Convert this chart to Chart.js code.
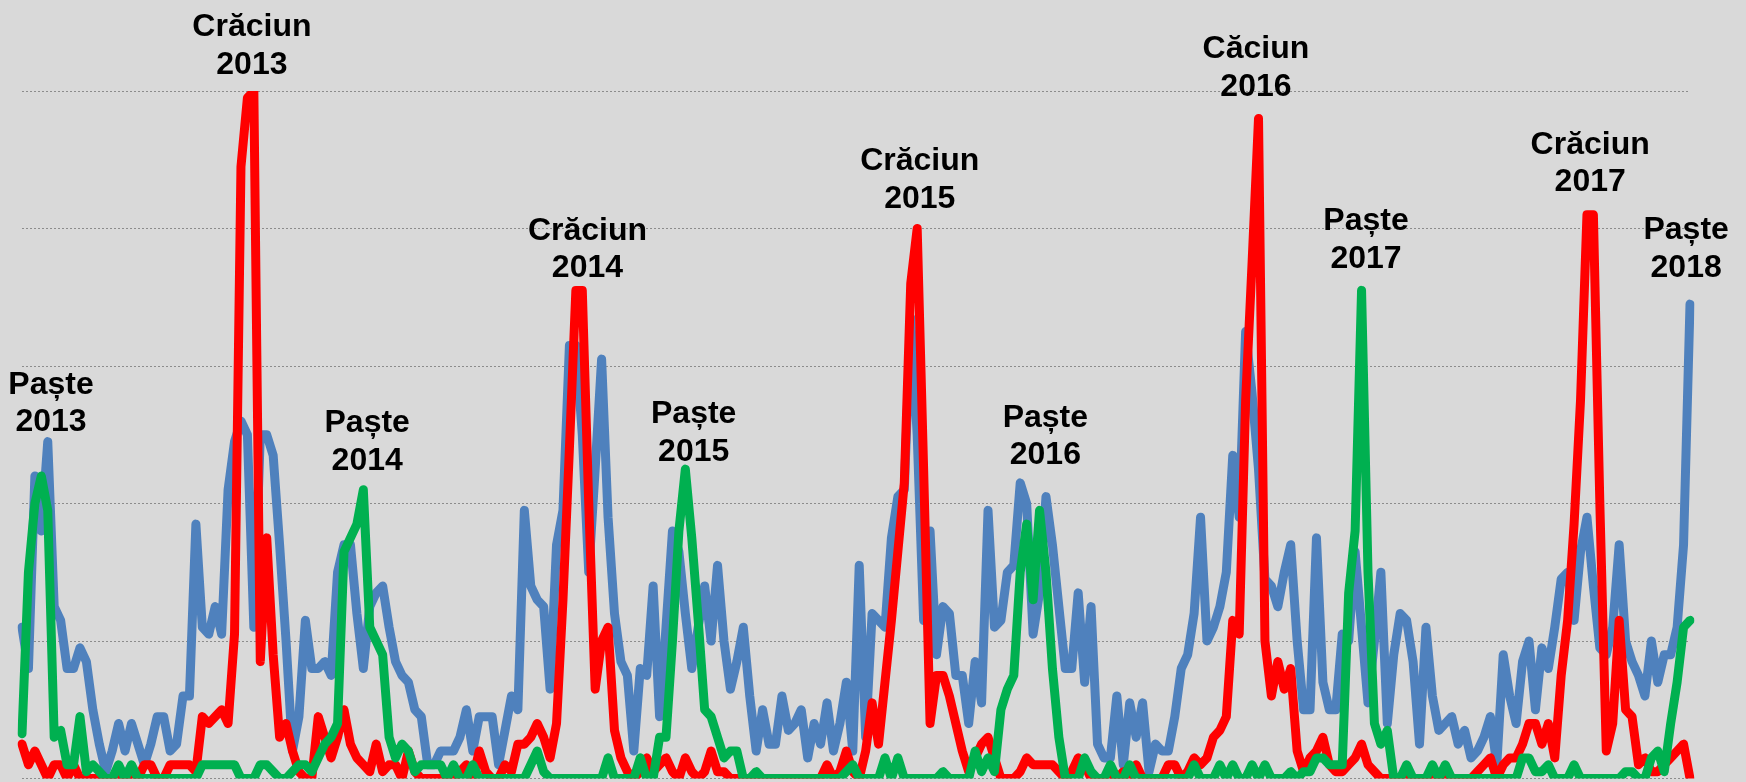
<!DOCTYPE html>
<html>
<head>
<meta charset="utf-8">
<script src="https://cdn.jsdelivr.net/npm/chart.js@4/dist/chart.umd.min.js"></script>
<style>
  html, body { margin: 0; padding: 0; background: #d9d9d9; }
  #wrap { width: 1746px; height: 782px; background: #d9d9d9; }
  canvas { display: block; }
</style>
</head>
<body>
<div id="wrap"><canvas id="c" width="1746" height="782"></canvas></div>
<script>
// ---- categories: weekly points, April 2013 - April 2018 ----
const startWeek = new Date(Date.UTC(2013, 3, 14));
const weeks = [];
for (let i = 0; i < 260; i++) {
  const d = new Date(startWeek.getTime() + i * 7 * 86400000);
  weeks.push(d.toISOString().slice(0, 10));
}

// ---- series values (0-100 index) ----
const seriesBlue = [
  22,16,44,36,49,25,23,16,16,19,
  17,10,5,1,4,8,4,8,5,2,
  5,9,9,4,5,12,12,37,22,21,
  25,21,42,49,52,50,22,50,50,47,
  34,20,4,9,23,16,16,17,15,30,
  34,34,24,16,25,27,28,22,17,15,
  14,10,9,2,2,4,4,4,6,10,
  4,9,9,9,2,7,12,10,39,28,
  26,25,13,34,39,63,63,50,30,45,
  61,38,24,17,15,4,16,15,28,9,
  22,36,33,24,16,22,28,20,31,20,
  13,17,22,12,4,10,5,5,12,7,
  8,10,3,8,5,11,4,8,14,4,
  31,6,24,23,22,35,41,42,67,50,
  23,36,18,25,24,15,15,8,17,11,
  39,22,23,30,31,43,40,21,27,41,
  34,25,16,16,27,14,25,5,3,3,
  12,2,11,6,11,1,5,4,4,9,
  16,18,24,38,20,22,25,30,47,38,
  65,56,45,29,28,25,30,34,20,10,
  10,35,14,10,10,21,20,33,22,11,
  20,30,8,18,24,23,17,5,22,12,
  7,8,9,5,7,3,4,6,9,2,
  18,12,8,17,20,10,19,16,22,29,
  30,23,33,38,28,19,18,22,34,20,
  17,15,12,20,14,18,18,22,34,69
];
const seriesCraciun = [
  5,2,4,2,0,2,2,0,2,0,
  0,0,0,0,0,0,0,0,0,2,
  2,0,0,2,2,2,2,1,9,8,
  9,10,8,21,89,99,100,17,35,18,
  6,8,4,1,0,0,9,6,3,6,
  10,5,3,2,1,5,1,2,2,0,
  4,1,0,0,0,0,0,0,1,2,
  0,4,1,0,0,2,1,5,5,6,
  8,6,3,8,26,48,71,71,40,13,
  20,22,7,3,1,0,1,3,1,2,
  3,1,0,3,1,0,1,4,1,1,
  0,0,0,0,0,0,0,0,0,0,
  0,0,0,0,0,2,0,1,4,1,
  0,4,11,5,14,23,33,43,72,80,
  45,8,15,15,12,8,4,1,3,5,
  6,3,0,0,0,1,3,2,2,2,
  2,1,0,1,3,2,0,0,0,0,
  0,1,0,2,0,0,0,0,2,2,
  0,1,3,2,3,6,7,9,23,21,
  55,75,96,20,12,17,13,16,4,1,
  3,4,6,2,1,1,2,3,5,2,
  1,0,0,0,0,1,0,0,0,0,
  0,0,0,0,0,0,1,2,3,0,
  2,3,3,5,8,8,5,8,3,15,
  23,37,55,82,82,40,4,8,23,10,
  9,2,3,1,1,2,3,4,5,0
];
const seriesPaste = [
  6.5,30,40,44,39,6,7,2,2,9,
  1,2,1,0,0,2,0,2,0,0,
  0,0,0,0,0,0,0,0,2,2,
  2,2,2,2,0,0,0,2,2,1,
  0,0,1,2,2,1,3,5,6,8,
  33,35,37,42,22,20,18,6,3,5,
  4,1,2,2,2,2,0,2,0,0,
  2,0,0,0,0,0,0,0,0,2,
  4,1,0,0,0,0,0,0,0,0,
  0,3,0,0,0,0,3,0,0,6,
  6,20,36,45,35,23,10,9,6,3,
  4,4,0,0,1,0,0,0,0,0,
  0,0,0,0,0,0,0,0,1,2,
  0,0,0,0,3,0,3,0,0,0,
  0,0,0,1,0,0,0,0,4,1,
  3,1,10,13,15,30,37,26,39,30,
  16,6,0,0,0,3,1,0,0,2,
  0,0,2,0,0,0,0,0,0,0,
  0,0,2,0,0,0,2,0,2,0,
  0,2,0,2,0,0,0,1,0,1,
  1,3,3,2,2,2,27,36,71,30,
  8,5,7,0,0,2,0,0,0,2,
  0,2,0,0,0,0,0,0,0,0,
  0,0,0,3,3,1,1,2,0,0,
  0,2,0,0,0,0,0,0,0,1,
  1,0,0,3,4,1,8,14,22,23
];

// ---- y axis ticks (gridlines) ----
const yTicks = [0, 20, 40, 60, 80, 100];

// ---- annotations: text lines, anchored at (week index, value of 2nd baseline) ----
const noteLines = [
  ['Paște', '2013'], ['Crăciun', '2013'], ['Paște', '2014'], ['Crăciun', '2014'],
  ['Paște', '2015'], ['Crăciun', '2015'], ['Paște', '2016'], ['Căciun', '2016'],
  ['Paște', '2017'], ['Crăciun', '2017'], ['Paște', '2018']
];
const noteIndex = [4.5, 35.7, 53.6, 87.8, 104.3, 139.4, 158.9, 191.6, 208.7, 243.5, 258.4];
const noteValue = [50.5, 102.5, 44.9, 72.9, 46.2, 83, 45.7, 99.3, 74.3, 85.4, 73];

const notesPlugin = {
  id: 'notes',
  afterDatasetsDraw(chart) {
    const ctx = chart.ctx;
    const xs = chart.scales.x, ys = chart.scales.y;
    ctx.save();
    ctx.font = 'bold 32px "Liberation Sans", Arial, sans-serif';
    ctx.fillStyle = '#000000';
    ctx.textAlign = 'center';
    ctx.textBaseline = 'alphabetic';
    noteLines.forEach((lines, k) => {
      const x = xs.getPixelForValue(noteIndex[k]);
      const y2 = ys.getPixelForValue(noteValue[k]);
      ctx.fillText(lines[0], x, y2 - 37.5);
      ctx.fillText(lines[1], x, y2);
    });
    ctx.restore();
  }
};

const lineStyle = { borderWidth: 9, tension: 0, borderJoinStyle: 'round', borderCapStyle: 'round', pointRadius: 0, pointHoverRadius: 0, fill: false };

new Chart(document.getElementById('c'), {
  type: 'line',
  data: {
    labels: weeks,
    datasets: [
      Object.assign({ label: 'Paște', data: seriesPaste, borderColor: '#00b050', backgroundColor: '#00b050', order: 0 }, lineStyle),
      Object.assign({ label: 'Crăciun', data: seriesCraciun, borderColor: '#ff0000', backgroundColor: '#ff0000', order: 1 }, lineStyle),
      Object.assign({ label: 'Total', data: seriesBlue, borderColor: '#4f81bd', backgroundColor: '#4f81bd', order: 2 }, lineStyle)
    ]
  },
  options: {
    responsive: false,
    animation: false,
    devicePixelRatio: 1,
    layout: { padding: { left: 22, right: 56, top: 91, bottom: 3.5 } },
    plugins: { legend: { display: false }, tooltip: { enabled: false }, title: { display: false } },
    scales: {
      x: { display: false, offset: false },
      y: {
        display: true,
        min: 0, max: 100,
        afterBuildTicks: (s) => { s.ticks = yTicks.map(v => ({ value: v })); },
        ticks: { display: false },
        grid: { color: '#8c8c8c', lineWidth: 1, drawTicks: false },
        border: { display: false, dash: [2, 2] }
      }
    }
  },
  plugins: [notesPlugin]
});
</script>
</body>
</html>
